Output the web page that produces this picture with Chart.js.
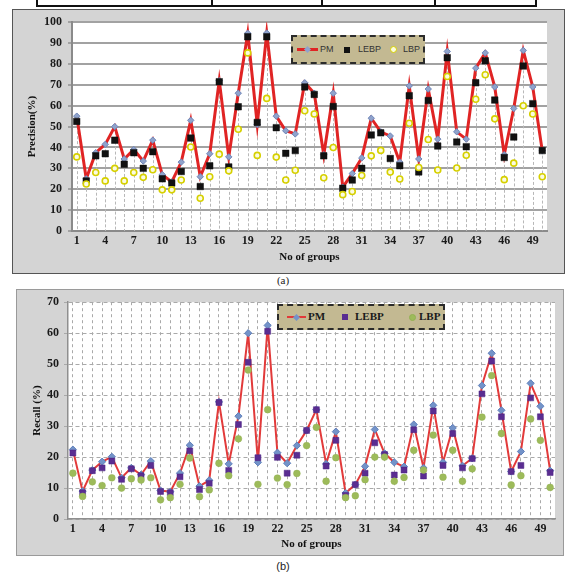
<!DOCTYPE html>
<html>
<head>
<meta charset="utf-8">
<script src="https://cdn.jsdelivr.net/npm/chart.js@4.4.1/dist/chart.umd.min.js"></script>
<style>
  html, body { margin: 0; padding: 0; background: #fff; }
  body { width: 566px; height: 572px; position: relative; overflow: hidden; font-family: "Liberation Serif", serif; }
  .rule { position: absolute; background: #111; }
  .panel { position: absolute; box-sizing: border-box; background: #d4d4d4; }
  #panelA { left: 12px; top: 9px; width: 553px; height: 265px; border: 1px solid #555; }
  #panelB { left: 16px; top: 289px; width: 548px; height: 267px; border: 1px solid #9a9a9a; }
  .wrap { position: absolute; }
  #wrapA { left: 12px; top: 9px; width: 552px; height: 263px; }
  #wrapB { left: 17px; top: 290px; width: 546px; height: 265px; }
  .legend { position: absolute; box-sizing: border-box; background: #c3b992; border: 2px dashed #2b2b2b; }
  #legA { left: 291px; top: 35px; width: 134px; height: 29px; }
  #legB { left: 277px; top: 304px; width: 168px; height: 26px; }
  .legend span { position: absolute; }
  .caption { position: absolute; left: 0; width: 566px; text-align: center; font-size: 11px; color: #222; }
</style>
</head>
<body>
<!-- table rule fragment above the first figure -->
<div class="rule" style="left:36px;top:5px;width:501px;height:2px;"></div>
<div class="rule" style="left:36px;top:0;width:2px;height:7px;"></div>
<div class="rule" style="left:211px;top:0;width:2px;height:7px;"></div>
<div class="rule" style="left:321px;top:0;width:2px;height:7px;"></div>
<div class="rule" style="left:434px;top:0;width:2px;height:7px;"></div>
<div class="rule" style="left:535px;top:0;width:2px;height:7px;"></div>

<div class="panel" id="panelA"></div>
<div class="wrap" id="wrapA"><canvas id="chartA" width="552" height="263"></canvas></div>
<div class="legend" id="legA"></div>
<div class="caption" style="top:274px;font-family:'Liberation Serif',serif;">(a)</div>

<div class="panel" id="panelB"></div>
<div class="wrap" id="wrapB"><canvas id="chartB" width="546" height="265"></canvas></div>
<div class="legend" id="legB"></div>
<div class="caption" style="top:560px;font-family:'Liberation Sans',sans-serif;">(b)</div>

<script>
// ---- data ----
const groups = ['1','2','3','4','5','6','7','8','9','10','11','12','13','14','15','16','17','18','19','20',
  '21','22','23','24','25','26','27','28','29','30','31','32','33','34','35','36','37','38','39','40',
  '41','42','43','44','45','46','47','48','49','50'];
const xTickLabels = ['1','4','7','10','13','16','19','22','25','28','31','34','37','40','43','46','49'];
const seriesNames = ['PM', 'LEBP', 'LBP'];

const precisionTicks = [0, 10, 20, 30, 40, 50, 60, 70, 80, 90, 100];
const recallTicks = [0, 10, 20, 30, 40, 50, 60, 70];

const precisionPM = [55, 25, 37.5, 41.5, 50, 34.5, 39, 33.5, 43.5, 27, 23.5, 33, 53, 26, 37,
  72, 35.5, 66, 94.7, 51, 94.8, 55, 48, 46.5, 71, 66, 36.5, 66, 21, 27.5,
  35, 54, 47.5, 45.5, 33, 69.5, 34.5, 68, 44, 86, 47.5, 44, 78, 85.3, 69,
  36.5, 58.7, 86.5, 69, 38.5];
const precisionLEBP = [52.5, 24, 36, 37, 43.5, 32, 37.5, 30, 38, 25, 23, 28.5, 44.5, 21.3, 31.2,
  71.5, 30.7, 59.5, 93, 52, 93, 49.5, 37.2, 38.5, 69, 65.4, 36, 59.6, 20.5, 24.4,
  30, 46, 47, 34.7, 31.3, 64.8, 28.3, 62.5, 40.7, 83, 42.6, 40.4, 71, 81.5, 62.7,
  35.2, 45, 79, 61, 38.5];
const precisionLBP = [35.5, 22.5, 28, 24, 30, 24, 28, 25.7, 29.3, 19.7, 19.7, 24.4, 40.2, 15.7, 26,
  36.8, 28.8, 48.7, 85.3, 36.2, 63.5, 35.4, 24.4, 29.1, 57.6, 56, 25.5, 40, 17.4, 18.9,
  26.6, 36, 38.6, 28.2, 24.9, 51.6, 30.4, 43.8, 29.2, 74, 30.2, 36.3, 63.1, 74.8, 53.7,
  24.6, 32.5, 60, 56, 26];

const recallPM = [22.4, 9, 15.8, 18.5, 20.1, 13.3, 16.5, 14.3, 18.7, 9.2, 8.8, 14.8, 23.8, 10.6, 12.5,
  37.8, 17.8, 33.2, 60, 18.3, 62.5, 21.4, 18, 23.7, 28.6, 35.3, 17.8, 28.2, 8.4, 11.1,
  17, 28.9, 21.2, 18.3, 16.9, 30.5, 16.5, 36.7, 18.3, 29.4, 17.2, 19.6, 43.1, 53.5, 35.1,
  15.3, 21.8, 43.8, 36.4, 15.6];
const recallLEBP = [21.3, 8.5, 15.6, 16.5, 18.7, 12.8, 16.2, 14, 17.3, 8.9, 8.5, 13.6, 22, 9.5, 11.5,
  37.6, 15.7, 30.5, 50.6, 19.8, 60.6, 19.9, 14.8, 20.6, 28.6, 35.3, 17.1, 25.4, 7.6, 11.1,
  14.8, 24.6, 20.8, 14.2, 15.8, 28.8, 13.9, 34.9, 17.3, 27.6, 16.5, 19.5, 40.4, 51, 33,
  15.3, 17.3, 39.1, 33, 15];
const recallLBP = [14.8, 7.3, 12, 10.8, 13.3, 10, 13, 12.6, 13.3, 6.2, 6.9, 11.2, 19.7, 7.2, 9.4,
  18, 14, 25.9, 48.1, 11.2, 35.3, 13.2, 11.1, 14.7, 23.7, 29.6, 12.2, 19.8, 6.9, 7.5,
  12.7, 20, 20, 12.2, 13.4, 22.2, 15.8, 27.1, 13.5, 22.2, 12.2, 16.2, 32.9, 46.3, 27.6,
  11, 14, 32.3, 25.4, 10.2];

// ---- shared helpers ----
const SERIF = "'Liberation Serif', 'Times New Roman', serif";
Chart.defaults.font.family = SERIF;

const plotBackground = {
  id: 'plotBackground',
  beforeDraw(chart) {
    const { ctx, chartArea: a } = chart;
    ctx.save();
    ctx.fillStyle = '#ffffff';
    ctx.fillRect(a.left, a.top, a.width, a.height);
    ctx.restore();
  }
};

// dashed drop lines from the highest value of each group down to zero
const dropLines = {
  id: 'dropLines',
  beforeDatasetsDraw(chart) {
    const { ctx, scales: { x, y } } = chart;
    ctx.save();
    ctx.strokeStyle = '#b8b8b8';
    ctx.lineWidth = 1;
    ctx.setLineDash([3, 2]);
    chart.data.labels.forEach((lab, i) => {
      const top = Math.max(...chart.data.datasets.map(d => d.data[i]));
      const px = Math.round(x.getPixelForValue(i)) + 0.5;
      ctx.beginPath();
      ctx.moveTo(px, y.getPixelForValue(top));
      ctx.lineTo(px, y.getPixelForValue(0));
      ctx.stroke();
    });
    ctx.restore();
  }
};

function xTickCallback(value) {
  const lab = this.getLabelForValue(value);
  return xTickLabels.includes(lab) ? lab : '';
}

// ---- (a) Precision ----
new Chart(document.getElementById('chartA'), {
  type: 'line',
  data: {
    labels: groups,
    datasets: [
      { label: seriesNames[0], data: precisionPM, order: 2,
        borderColor: '#e02424', borderWidth: 3, tension: 0,
        pointStyle: 'rectRot', pointRadius: 3.2, pointBackgroundColor: '#8fa3cc', pointBorderColor: '#6f86b8', pointBorderWidth: 1 },
      { label: seriesNames[1], data: precisionLEBP, order: 1, showLine: false,
        pointStyle: 'rect', pointRadius: 4.6, pointBackgroundColor: '#111111', pointBorderColor: '#111111', pointBorderWidth: 0.5 },
      { label: seriesNames[2], data: precisionLBP, order: 0, showLine: false,
        pointStyle: 'circle', pointRadius: 3, pointBackgroundColor: '#fbfbe0', pointBorderColor: '#d6d000', pointBorderWidth: 1.6 }
    ]
  },
  options: {
    responsive: false,
    animation: false,
    layout: { padding: { top: 9, right: 17, bottom: 0, left: 0 } },
    plugins: { legend: { display: false }, tooltip: { enabled: false } },
    scales: {
      x: {
        type: 'category', offset: true,
        grid: { display: false, drawTicks: false },
        border: { display: true, color: '#8a8a8a', width: 2 },
        ticks: { autoSkip: false, maxRotation: 0, padding: 3, color: '#1a1a1a',
          font: { size: 12, weight: 'bold' }, callback: xTickCallback },
        title: { display: true, text: 'No of groups', color: '#111',
          font: { size: 11, weight: 'bold' }, padding: { top: 0, bottom: 8 } },
        afterFit(s) { s.height = 41; }
      },
      y: {
        min: 0, max: 100,
        afterBuildTicks(s) { s.ticks = precisionTicks.map(v => ({ value: v })); },
        grid: { color: '#a2a2a2', lineWidth: 2, tickLength: 4 },
        border: { display: true, color: '#8a8a8a', width: 2 },
        ticks: { padding: 6, color: '#1a1a1a', font: { size: 12, weight: 'bold' } },
        title: { display: true, text: 'Precision(%)', color: '#111',
          font: { size: 11, weight: 'bold' }, padding: { top: 14, bottom: 0 } },
        afterFit(s) { s.width = 60; }
      }
    }
  },
  plugins: [plotBackground, dropLines]
});

// ---- (b) Recall ----
new Chart(document.getElementById('chartB'), {
  type: 'line',
  data: {
    labels: groups,
    datasets: [
      { label: seriesNames[0], data: recallPM, order: 2,
        borderColor: '#e23a3a', borderWidth: 2, tension: 0,
        pointStyle: 'rectRot', pointRadius: 3.6, pointBackgroundColor: '#7393c9', pointBorderColor: '#5f80bb', pointBorderWidth: 1 },
      { label: seriesNames[1], data: recallLEBP, order: 1, showLine: false,
        pointStyle: 'rect', pointRadius: 4.2, pointBackgroundColor: '#5a2d91', pointBorderColor: '#4a2380', pointBorderWidth: 0.5 },
      { label: seriesNames[2], data: recallLBP, order: 0, showLine: false,
        pointStyle: 'circle', pointRadius: 3.4, pointBackgroundColor: '#9dbb5a', pointBorderColor: '#93b152', pointBorderWidth: 0.5 }
    ]
  },
  options: {
    responsive: false,
    animation: false,
    layout: { padding: { top: 11, right: 8, bottom: 0, left: 0 } },
    plugins: { legend: { display: false }, tooltip: { enabled: false } },
    scales: {
      x: {
        type: 'category', offset: true,
        grid: { display: true, drawTicks: false, color: '#a9a9a9', lineWidth: 1 },
        border: { display: true, color: '#8f8f8f', width: 1.5, dash: [3, 3] },
        ticks: { autoSkip: false, maxRotation: 0, padding: 3, color: '#1a1a1a',
          font: { size: 12, weight: 'bold' }, callback: xTickCallback },
        title: { display: true, text: 'No of groups', color: '#111',
          font: { size: 11, weight: 'bold' }, padding: { top: 0, bottom: 4 } },
        afterFit(s) { s.height = 36; }
      },
      y: {
        min: 0, max: 70,
        afterBuildTicks(s) { s.ticks = recallTicks.map(v => ({ value: v })); },
        grid: { color: '#a9a9a9', lineWidth: 1, tickLength: 4, tickBorderDash: [] },
        border: { display: true, color: '#8f8f8f', width: 1.5, dash: [4, 3] },
        ticks: { padding: 5, color: '#1a1a1a', font: { size: 12, weight: 'bold' } },
        title: { display: true, text: 'Recall (%)', color: '#111',
          font: { size: 11, weight: 'bold' }, padding: { top: 14, bottom: 0 } },
        afterFit(s) { s.width = 51; }
      }
    }
  },
  plugins: [plotBackground]
});

// ---- legends ----
function buildLegend(el, spec) {
  const font = spec.font;
  // PM: red line with marker
  const line = document.createElement('span');
  Object.assign(line.style, { left: spec.pm.lineX + 'px', top: (spec.cy - spec.lineW / 2) + 'px',
    width: spec.pm.lineLen + 'px', height: spec.lineW + 'px', background: spec.lineColor });
  el.appendChild(line);
  const dia = document.createElement('span');
  const d = spec.diamond;
  Object.assign(dia.style, { left: (spec.pm.lineX + spec.pm.lineLen / 2 - d / 2) + 'px', top: (spec.cy - d / 2) + 'px',
    width: d + 'px', height: d + 'px', background: spec.pmColor, transform: 'rotate(45deg)' });
  el.appendChild(dia);
  // LEBP square
  const sq = document.createElement('span');
  Object.assign(sq.style, { left: (spec.sqX - spec.sq / 2) + 'px', top: (spec.cy - spec.sq / 2) + 'px',
    width: spec.sq + 'px', height: spec.sq + 'px', background: spec.sqColor });
  el.appendChild(sq);
  // LBP circle
  const c = document.createElement('span');
  Object.assign(c.style, { left: (spec.cX - spec.c / 2) + 'px', top: (spec.cy - spec.c / 2) + 'px',
    width: spec.c + 'px', height: spec.c + 'px', borderRadius: '50%', boxSizing: 'border-box',
    background: spec.cFill, border: spec.cBorder });
  el.appendChild(c);
  // labels
  seriesNames.forEach((name, i) => {
    const t = document.createElement('span');
    t.textContent = name;
    Object.assign(t.style, { left: spec.textX[i] + 'px', top: (spec.cy - font.size * 0.62) + 'px',
      fontFamily: font.family, fontSize: font.size + 'px', fontWeight: font.weight, color: font.color,
      lineHeight: '1.2', whiteSpace: 'nowrap' });
    el.appendChild(t);
  });
}

buildLegend(document.getElementById('legA'), {
  cy: 12.5, lineW: 3, lineColor: '#e02424', pmColor: '#8fa3cc', diamond: 5,
  pm: { lineX: 4, lineLen: 21 },
  sqX: 54, sq: 6, sqColor: '#111',
  cX: 100, c: 7, cFill: '#fbfbe0', cBorder: '1.6px solid #d6d000',
  textX: [27, 65, 110],
  font: { family: "'Liberation Sans', Arial, sans-serif", size: 9, weight: 'normal', color: '#333' }
});

buildLegend(document.getElementById('legB'), {
  cy: 11, lineW: 2, lineColor: '#e23a3a', pmColor: '#7393c9', diamond: 5,
  pm: { lineX: 8, lineLen: 19 },
  sqX: 66, sq: 6, sqColor: '#5a2d91',
  cX: 133, c: 7, cFill: '#9dbb5a', cBorder: '0.5px solid #93b152',
  textX: [29, 76, 140],
  font: { family: SERIF, size: 11, weight: 'bold', color: '#1a1a1a' }
});
</script>
</body>
</html>
